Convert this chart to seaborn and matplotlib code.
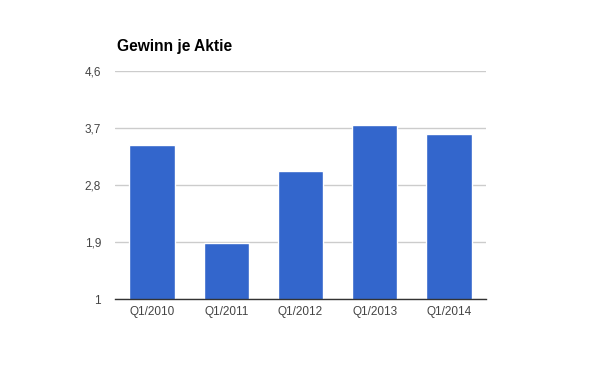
import matplotlib
matplotlib.use("Agg")
import matplotlib.pyplot as plt
import seaborn as sns
import pandas as pd

categories = ["Q1/2010", "Q1/2011", "Q1/2012", "Q1/2013", "Q1/2014"]
values = [3.43, 1.88, 3.02, 3.75, 3.61]
yticks = [1, 1.9, 2.8, 3.7, 4.6]
ytick_labels = ["1", "1,9", "2,8", "3,7", "4,6"]

sns.set_theme(style="white")
plt.rcParams['font.family'] = ['Liberation Sans', 'DejaVu Sans']

df = pd.DataFrame({"Quartal": categories, "Wert": values})

fig = plt.figure(figsize=(6, 3.71), dpi=100)
ax = fig.add_axes([115/600, 1-299/371, (486-115)/600, (299-71)/371])
sns.barplot(data=df, x="Quartal", y="Wert", color="#3366CC", saturation=1,
            width=0.61, ax=ax, zorder=3)
ax.set_ylim(1, 4.6)
ax.set_xlim(-0.5, 4.5)
ax.set_yticks(yticks)
ax.set_yticklabels(ytick_labels)
ax.yaxis.grid(True, color="#cccccc", linewidth=1, zorder=0)
ax.set_axisbelow(True)
for s in ["top", "right", "left"]:
    ax.spines[s].set_visible(False)
ax.spines["bottom"].set_color("#333333")
ax.spines["bottom"].set_linewidth(1)
ax.spines["bottom"].set_zorder(4)
ax.set_xlabel("")
ax.set_ylabel("")
ax.tick_params(axis="both", length=0, labelsize=8.5, labelcolor="#444444")
ax.tick_params(axis="y", pad=10)
ax.tick_params(axis="x", pad=5)
fig.text(117/600, 1-47/371, "Gewinn je Aktie", fontsize=11.2, fontweight="bold",
         color="#000000", ha="left", va="center")
fig.savefig("out.png", dpi=100)
